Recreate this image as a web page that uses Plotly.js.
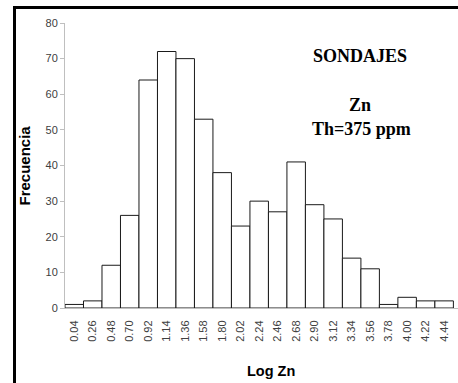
<!DOCTYPE html>
<html>
<head>
<meta charset="utf-8">
<script src="https://cdn.plot.ly/plotly-3.0.1.min.js"></script>
<style>
html,body{margin:0;padding:0;background:#fff;}
#wrap{position:relative;width:458px;height:383px;overflow:hidden;}
#chart{width:458px;height:383px;}
#frame{position:absolute;left:13px;top:6px;width:460px;height:400px;border-left:3px solid #000;border-top:3px solid #000;pointer-events:none;}
</style>
</head>
<body>
<div id="wrap"><div id="chart"></div><div id="frame"></div></div>
<script>
const categories = ["0.04","0.26","0.48","0.70","0.92","1.14","1.36","1.58","1.80","2.02","2.24","2.46","2.68","2.90","3.12","3.34","3.56","3.78","4.00","4.22","4.44"];
const frecuencia = [1,2,12,26,64,72,70,53,38,23,30,27,41,29,25,14,11,1,3,2,2];
const yTicks = [0,10,20,30,40,50,60,70,80];

const trace = {
  type: 'bar',
  x: categories,
  y: frecuencia,
  marker: {color: '#ffffff', line: {color: '#1a1a1a', width: 1}},
  hoverinfo: 'x+y'
};

const PW = 393, PH = 285, L = 65, T = 23;
const px = v => (v - L) / PW;
const py = v => (T + PH - v) / PH;

const layout = {
  width: 458, height: 383,
  margin: {l: L, r: 0, t: T, b: 383 - T - PH},
  paper_bgcolor: '#ffffff', plot_bgcolor: '#ffffff',
  bargap: 0,
  showlegend: false,
  font: {family: 'Liberation Sans, Arial, sans-serif', size: 11, color: '#404040'},
  xaxis: {
    type: 'category',
    tickvals: categories,
    ticktext: categories,
    tickangle: -90,
    showline: true, linecolor: '#bfbfbf', linewidth: 1,
    ticks: '', showgrid: false, zeroline: false,
    ticklabelstandoff: 7,
    tickfont: {size: 11, color: '#404040'},
    range: [-0.5, 20.75]
  },
  yaxis: {
    range: [0, 80],
    tickvals: yTicks,
    showline: true, linecolor: '#bfbfbf', linewidth: 1,
    ticks: 'outside', ticklen: 4, tickcolor: '#bfbfbf',
    showgrid: false, zeroline: false,
    tickfont: {size: 11, color: '#404040'}
  },
  annotations: [
    {text: '<b>Frecuencia</b>', xref: 'paper', yref: 'paper', x: px(24), y: 0.5, textangle: -90,
     showarrow: false, xanchor: 'center', yanchor: 'middle', font: {size: 15, color: '#000', family: 'Liberation Sans, Arial, sans-serif'}},
    {text: '<b>Log Zn</b>', xref: 'paper', yref: 'paper', x: px(271), y: py(371),
     showarrow: false, xanchor: 'center', yanchor: 'middle', font: {size: 14.5, color: '#000', family: 'Liberation Sans, Arial, sans-serif'}},
    {text: '<b>SONDAJES</b>', xref: 'paper', yref: 'paper', x: px(360), y: py(56),
     showarrow: false, xanchor: 'center', yanchor: 'middle', font: {size: 18, color: '#000', family: 'Liberation Serif, Times New Roman, serif'}},
    {text: '<b>Zn</b>', xref: 'paper', yref: 'paper', x: px(360), y: py(105),
     showarrow: false, xanchor: 'center', yanchor: 'middle', font: {size: 18, color: '#000', family: 'Liberation Serif, Times New Roman, serif'}},
    {text: '<b>Th=375 ppm</b>', xref: 'paper', yref: 'paper', x: px(361), y: py(129),
     showarrow: false, xanchor: 'center', yanchor: 'middle', font: {size: 18, color: '#000', family: 'Liberation Serif, Times New Roman, serif'}}
  ]
};

Plotly.newPlot('chart', [trace], layout, {displayModeBar: false, staticPlot: true});
</script>
</body>
</html>
